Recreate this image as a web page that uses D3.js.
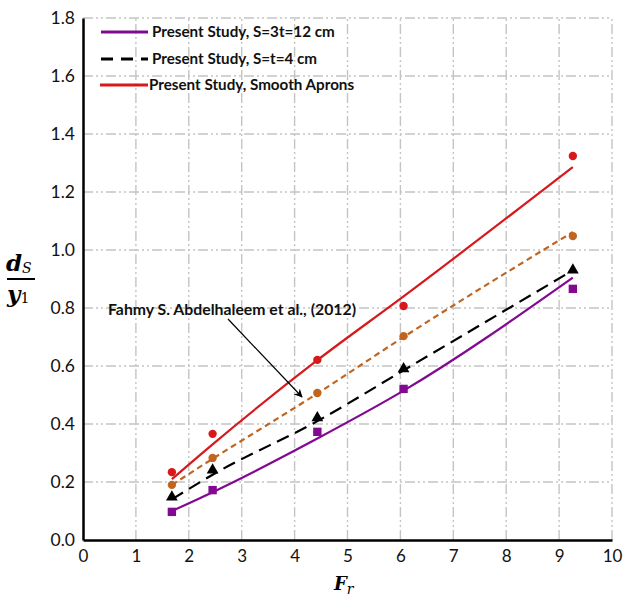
<!DOCTYPE html>
<html>
<head>
<meta charset="utf-8">
<script src="https://cdn.jsdelivr.net/npm/d3@7"></script>
<style>
  body { margin: 0; background: #fff; }
  svg text { font-family: Lato, "Open Sans", sans-serif; }
</style>
</head>
<body>
<div id="chart"></div>
<script>
// measured Froude numbers
const froude = [1.68, 2.45, 4.43, 6.06, 9.26];

// observed scour depth ratios (markers)
const obsRibs12 = [0.097, 0.172, 0.373, 0.521, 0.866];
const obsRibs4 = [0.148, 0.241, 0.421, 0.590, 0.931];
const obsAbdel = [0.190, 0.283, 0.507, 0.703, 1.048];
const obsSmooth = [0.234, 0.366, 0.621, 0.807, 1.324];

// fitted curves (lines)
const fitRibs12 = [0.100, 0.165, 0.350, 0.515, 0.905];
const fitRibs4 = [0.140, 0.225, 0.410, 0.585, 0.930];
const fitAbdel = [0.190, 0.280, 0.505, 0.700, 1.062];
const fitSmooth = [0.210, 0.330, 0.620, 0.840, 1.286];

const xTicks = d3.range(0, 11, 1);
const yTicks = d3.range(0, 1.81, 0.2);

const width = 625, height = 598;
const margin = { top: 18, right: 13, bottom: 58, left: 83 };

const svg = d3.select("#chart")
  .append("svg")
  .attr("width", width)
  .attr("height", height);

const x = d3.scaleLinear()
  .domain([0, 10])
  .range([margin.left, width - margin.right]);

const y = d3.scaleLinear()
  .domain([0, 1.8])
  .range([height - margin.bottom, margin.top]);

// grid
const grid = svg.append("g").attr("class", "grid");

grid.selectAll(".hg")
  .data(yTicks.slice(1))
  .enter()
  .append("line")
  .attr("class", "hg")
  .attr("x1", x(0)).attr("x2", x(10))
  .attr("y1", d => y(d)).attr("y2", d => y(d))
  .attr("stroke", "#c4c4c4")
  .attr("stroke-width", 1.4)
  .attr("stroke-dasharray", "10,3,2,3,2,3");

grid.selectAll(".vg")
  .data(xTicks.slice(1))
  .enter()
  .append("line")
  .attr("class", "vg")
  .attr("x1", d => x(d)).attr("x2", d => x(d))
  .attr("y1", y(0)).attr("y2", y(1.8))
  .attr("stroke", "#c4c4c4")
  .attr("stroke-width", 1.4)
  .attr("stroke-dasharray", "10,3,2,3,2,3");

// axes
svg.append("g")
  .attr("transform", `translate(0,${y(0)})`)
  .call(d3.axisBottom(x).tickValues(xTicks).tickSize(0).tickPadding(10).tickFormat(d3.format("d")))
  .call(g => g.select(".domain").attr("stroke", "#000").attr("stroke-width", 2.5))
  .call(g => g.selectAll("text").attr("font-size", 17).attr("fill", "#111").style("font-family", "Lato, sans-serif"));

svg.append("g")
  .attr("transform", `translate(${x(0)},0)`)
  .call(d3.axisLeft(y).tickValues(yTicks).tickSize(0).tickPadding(8).tickFormat(d3.format(".1f")))
  .call(g => g.select(".domain").attr("stroke", "#000").attr("stroke-width", 2.5))
  .call(g => g.selectAll("text").attr("font-size", 17.5).attr("fill", "#111").style("font-family", "Lato, sans-serif"));

// axis titles
const fr = svg.append("text")
  .attr("x", 334).attr("y", 590)
  .attr("font-size", 18)
  .style("font-family", "'DejaVu Serif', serif")
  .attr("font-weight", "bold")
  .attr("font-style", "italic");
fr.append("tspan").text("F");
fr.append("tspan").attr("font-size", 14).attr("dy", 4).attr("font-weight", "normal").text("r");

const num = svg.append("text")
  .attr("x", 6).attr("y", 271)
  .attr("font-size", 23)
  .style("font-family", "'DejaVu Serif', serif")
  .attr("font-weight", "bold")
  .attr("font-style", "italic");
num.append("tspan").text("d");
num.append("tspan").attr("font-size", 14).attr("dy", 2).attr("font-weight", "normal").text("S");

svg.append("line")
  .attr("x1", 7).attr("x2", 35)
  .attr("y1", 279).attr("y2", 279)
  .attr("stroke", "#000").attr("stroke-width", 2);

const den = svg.append("text")
  .attr("x", 7).attr("y", 302)
  .attr("font-size", 23)
  .style("font-family", "'DejaVu Serif', serif")
  .attr("font-weight", "bold")
  .attr("font-style", "italic");
den.append("tspan").text("y");
den.append("tspan").attr("font-size", 14).attr("dy", 1).attr("font-weight", "normal").attr("font-style", "normal").text("1");

// series
const series = [
  { name: "ribs12", obs: obsRibs12, fit: fitRibs12, color: "#820a91", dash: null, marker: "square" },
  { name: "ribs4", obs: obsRibs4, fit: fitRibs4, color: "#000000", dash: "13,7", marker: "triangle" },
  { name: "abdel", obs: obsAbdel, fit: fitAbdel, color: "#c0651f", dash: "6,4", marker: "circle" },
  { name: "smooth", obs: obsSmooth, fit: fitSmooth, color: "#d7191c", dash: null, marker: "circle" }
];

const line = d3.line()
  .x(d => x(d[0]))
  .y(d => y(d[1]))
  .curve(d3.curveMonotoneX);

series.forEach(s => {
  svg.append("path")
    .datum(froude.map((f, i) => [f, s.fit[i]]))
    .attr("d", line)
    .attr("fill", "none")
    .attr("stroke", s.color)
    .attr("stroke-width", 2.2)
    .attr("stroke-dasharray", s.dash);

  const symType = s.marker === "square" ? d3.symbolSquare
    : s.marker === "triangle" ? d3.symbolTriangle : d3.symbolCircle;
  const size = s.marker === "square" ? 70 : s.marker === "triangle" ? 60 : 55;

  svg.append("g")
    .selectAll("path")
    .data(froude.map((f, i) => [f, s.obs[i]]))
    .enter()
    .append("path")
    .attr("transform", d => `translate(${x(d[0])},${y(d[1])})`)
    .attr("d", d3.symbol().type(symType).size(size))
    .attr("fill", s.color);
});

// annotation
svg.append("defs").append("marker")
  .attr("id", "arrow")
  .attr("viewBox", "0 0 10 10")
  .attr("refX", 9).attr("refY", 5)
  .attr("markerWidth", 7).attr("markerHeight", 7)
  .attr("orient", "auto")
  .append("path")
  .attr("d", "M0,0 L10,5 L0,10 L3,5 Z")
  .attr("fill", "#000");

svg.append("line")
  .attr("x1", 228).attr("y1", 319)
  .attr("x2", 302).attr("y2", 397)
  .attr("stroke", "#000")
  .attr("stroke-width", 1.2)
  .attr("marker-end", "url(#arrow)");

svg.append("text")
  .attr("x", 108).attr("y", 315)
  .attr("font-size", 15.8)
  .attr("font-weight", "bold")
  .attr("fill", "#111")
  .text("Fahmy S. Abdelhaleem et al., (2012)");

// Legend
const legendData = [
  { label: "Present Study, S=3t=12 cm", color: "#820a91", dash: null, y: 32 },
  { label: "Present Study, S=t=4 cm", color: "#000000", dash: "12,8", y: 59 },
  { label: "Present Study, Smooth Aprons", color: "#d7191c", dash: null, y: 85 }
];

const legend = svg.append("g").attr("class", "legend");

legend.selectAll("g")
  .data(legendData)
  .enter()
  .append("g")
  .each(function(d, i) {
    d3.select(this)
      .append("line")
      .attr("x1", i === 2 ? 100 : 101).attr("x2", 148)
      .attr("y1", d.y).attr("y2", d.y)
      .attr("stroke", d.color)
      .attr("stroke-width", 2.8)
      .attr("stroke-dasharray", d.dash);

    d3.select(this)
      .append("text")
      .attr("x", i === 2 ? 149 : 152)
      .attr("y", d.y + 5)
      .attr("font-size", 15.2)
      .attr("font-weight", "bold")
      .attr("fill", "#111")
      .text(d.label);
  });
</script>
</body>
</html>
